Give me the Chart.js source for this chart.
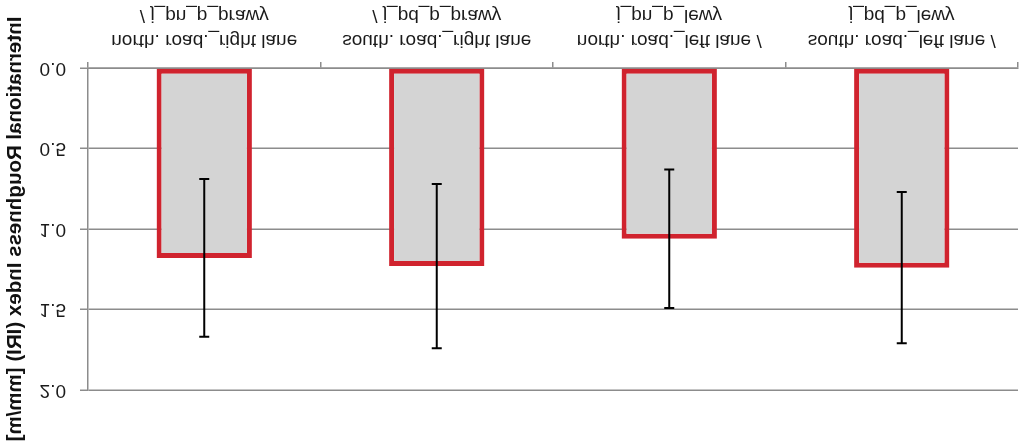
<!DOCTYPE html>
<html>
    <head>
        <meta charset="utf-8">
        <script src="https://cdn.jsdelivr.net/npm/chart.js@4.4.1/dist/chart.umd.min.js"></script>
        <style>
            body { margin:0; background:#fff; }
            /* the reference picture is mirrored top-to-bottom */
            #wrap { width:1023px; height:446px; transform:scaleY(-1); }
        </style>
    </head>
    <body>
        <div id="wrap">
            <canvas id="myChart"></canvas>
        </div>
    </body>
    <script>
        // data
        const labelLine1 = ['north. road._right lane', 'south. road._right lane', 'north. road._left lane /', 'south. road._left lane /']
        const labelLine2 = ['/ j_pn_p_prawy', '/ j_pd_p_prawy', 'j_pn_p_lewy', 'j_pd_p_lewy']
        const iriMean = [1.18, 1.23, 1.06, 1.24]
        const iriSd   = [0.49, 0.51, 0.43, 0.47]
        const yTicks  = [0, 0.5, 1.0, 1.5, 2.0]

        const categories = labelLine1.map((l, i) => [l, labelLine2[i]])

        // error bars (mean +/- sd) drawn with the chart's own scales
        const errorBars = {
            id:'errorBars',
            afterDatasetsDraw(chart){
                const ctx = chart.ctx
                const x = chart.scales.x
                const y = chart.scales.y
                ctx.save()
                ctx.strokeStyle = '#000'
                ctx.lineWidth = 2
                iriMean.forEach((m, i) => {
                    const px = x.getPixelForValue(i)
                    const lo = y.getPixelForValue(m - iriSd[i])
                    const hi = y.getPixelForValue(m + iriSd[i])
                    ctx.beginPath()
                    ctx.moveTo(px, lo); ctx.lineTo(px, hi)
                    ctx.moveTo(px - 5, lo); ctx.lineTo(px + 5, lo)
                    ctx.moveTo(px - 5, hi); ctx.lineTo(px + 5, hi)
                    ctx.stroke()
                })
                ctx.restore()
            }
        }

        const font = "'Liberation Sans', Arial, sans-serif"

        const data = {
            labels: categories,
            datasets: [{
                data: iriMean,
                backgroundColor: '#d4d4d4',
                borderColor: '#d0232e',
                borderWidth: 5,
                borderSkipped: false,
                barPercentage: 0.41,
                categoryPercentage: 1.0
            }]
        }

        const config = {
            type: 'bar',
            data: data,
            plugins: [errorBars],
            options: {
                responsive: true,
                maintainAspectRatio: false,
                animation: false,
                layout: { padding: { top: 56, right: 5, left: 0, bottom: 0 } },
                plugins: {
                    legend: { display: false },
                    tooltip: { enabled: false }
                },
                scales: {
                    x: {
                        afterFit: (s) => { s.height = 68 },
                        grid: { display: true, offset: true, drawOnChartArea: false, tickLength: 6, color: '#8c8c8c', lineWidth: 1.5 },
                        border: { display: true, color: '#8c8c8c', width: 1.5 },
                        ticks: { color: '#1a1a1a', padding: 9, maxRotation: 0, autoSkip: false,
                                 font: { family: font, size: 19, lineHeight: 1.32 } }
                    },
                    y: {
                        min: 0,
                        max: 2,
                        afterFit: (s) => { s.width = 88 },
                        afterBuildTicks: (s) => { s.ticks = yTicks.map(v => ({ value: v })) },
                        grid: { color: '#8c8c8c', lineWidth: 1.5, tickLength: 8 },
                        border: { display: true, color: '#8c8c8c', width: 1.5 },
                        ticks: { color: '#1a1a1a', padding: 14,
                                 callback: (v) => Number(v).toFixed(1),
                                 font: { family: font, size: 19 } },
                        title: { display: true, text: 'International Roughness Index (IRI) [mm/m]',
                                 color: '#111', padding: { top: 3, bottom: 0 },
                                 font: { family: font, size: 20.5, weight: 'bold' } }
                    }
                }
            }
        }
        const myChart = new Chart(document.getElementById('myChart'), config)
    </script>
</html>
